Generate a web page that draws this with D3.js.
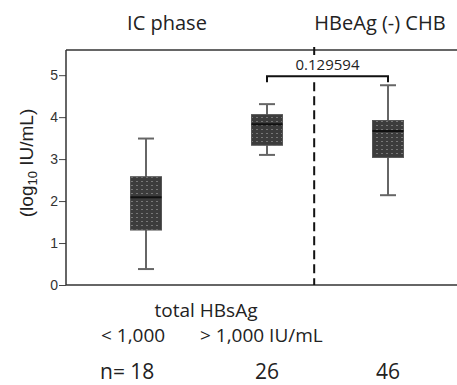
<!DOCTYPE html>
<meta charset="utf-8">
<title>HBsAg box plot</title>
<style>
  body { margin: 0; background: #fff; }
  text { fill: #222; }
  .tick text { font-family: "Liberation Sans", Arial, sans-serif; font-size: 14px; fill: #333; }
  .lbl { font-family: "Open Sans", "Liberation Sans", sans-serif; }
</style>
<body>
<script src="https://d3js.org/d3.v7.min.js"></script>
<script>

var width = 457, height = 385;

// data
var groups  = ["< 1,000", "> 1,000", "HBeAg (-) CHB"];
var counts  = ["n= 18", "26", "46"];
var whiskLo = [0.38, 3.10, 2.14];
var q1      = [1.31, 3.33, 3.04];
var median  = [2.09, 3.83, 3.67];
var q3      = [2.58, 4.06, 3.92];
var whiskHi = [3.49, 4.31, 4.76];
var yTicks  = [0, 1, 2, 3, 4, 5];
var pLabel  = "0.129594";
var pPair   = [1, 2];
var divider = 1.39;

var x = d3.scaleLinear().domain([0, 1]).range([146, 267]);
var y = d3.scaleLinear().domain([0, 5.6]).range([285, 50]);

var svg = d3.select("body").append("svg")
  .attr("width", width)
  .attr("height", height);

var defs = svg.append("defs");
var pat = defs.append("pattern")
  .attr("id", "dots")
  .attr("patternUnits", "userSpaceOnUse")
  .attr("width", 5).attr("height", 4);
pat.append("rect").attr("width", 5).attr("height", 4).attr("fill", "#3c3c3c");
pat.append("rect").attr("x", 1).attr("y", 1).attr("width", 2).attr("height", 1).attr("fill", "#777");

// y axis
var yAxis = svg.append("g")
  .attr("transform", "translate(66,0)")
  .call(d3.axisLeft(y).tickValues(yTicks).tickFormat(d3.format("d")).tickSize(7).tickPadding(1));
yAxis.select(".domain").remove();
yAxis.selectAll(".tick line").attr("stroke", "#444");

// frame: left, top, bottom
svg.append("line").attr("x1", 66).attr("x2", 66).attr("y1", y(0)).attr("y2", y.range()[1])
  .attr("stroke", "#333").attr("stroke-width", 1.5);
svg.append("line").attr("x1", 66).attr("x2", width).attr("y1", y.range()[1]).attr("y2", y.range()[1])
  .attr("stroke", "#333").attr("stroke-width", 1.5);
svg.append("line").attr("x1", 66).attr("x2", width).attr("y1", y(0)).attr("y2", y(0))
  .attr("stroke", "#333").attr("stroke-width", 1.5);

// significance bracket position
var by = y(5) + 1;

// divider: short tick through the top frame, then dashes below the bracket
svg.append("line")
  .attr("x1", x(divider)).attr("x2", x(divider))
  .attr("y1", y.range()[1] - 3).attr("y2", y.range()[1] + 5)
  .attr("stroke", "#111").attr("stroke-width", 2);
svg.append("line")
  .attr("x1", x(divider)).attr("x2", x(divider))
  .attr("y1", by + 6).attr("y2", y(0))
  .attr("stroke", "#111").attr("stroke-width", 2)
  .attr("stroke-dasharray", "9,5");

// boxes
var bw = 31, cw = 16;
var box = svg.selectAll(".box").data(groups).enter().append("g").attr("class", "box");

box.append("line")
  .attr("x1", function(d, i) { return x(i); }).attr("x2", function(d, i) { return x(i); })
  .attr("y1", function(d, i) { return y(whiskLo[i]); })
  .attr("y2", function(d, i) { return y(whiskHi[i]); })
  .attr("stroke", "#666").attr("stroke-width", 2);
box.append("line")
  .attr("x1", function(d, i) { return x(i) - cw / 2; }).attr("x2", function(d, i) { return x(i) + cw / 2; })
  .attr("y1", function(d, i) { return y(whiskLo[i]); }).attr("y2", function(d, i) { return y(whiskLo[i]); })
  .attr("stroke", "#666").attr("stroke-width", 2);
box.append("line")
  .attr("x1", function(d, i) { return x(i) - cw / 2; }).attr("x2", function(d, i) { return x(i) + cw / 2; })
  .attr("y1", function(d, i) { return y(whiskHi[i]); }).attr("y2", function(d, i) { return y(whiskHi[i]); })
  .attr("stroke", "#666").attr("stroke-width", 2);
box.append("rect")
  .attr("x", function(d, i) { return x(i) - bw / 2; })
  .attr("y", function(d, i) { return y(q3[i]); })
  .attr("width", bw)
  .attr("height", function(d, i) { return y(q1[i]) - y(q3[i]); })
  .attr("fill", "url(#dots)")
  .attr("stroke", "#555").attr("stroke-width", 1);
box.append("line")
  .attr("x1", function(d, i) { return x(i) - bw / 2; }).attr("x2", function(d, i) { return x(i) + bw / 2; })
  .attr("y1", function(d, i) { return y(median[i]); }).attr("y2", function(d, i) { return y(median[i]); })
  .attr("stroke", "#111").attr("stroke-width", 2);

// significance bracket
svg.append("path")
  .attr("d", "M" + x(pPair[0]) + "," + (by + 6) + "V" + by + "H" + x(pPair[1]) + "V" + (by + 6))
  .attr("fill", "none").attr("stroke", "#111").attr("stroke-width", 2);
svg.append("text").attr("class", "lbl")
  .attr("x", (x(pPair[0]) + x(pPair[1])) / 2).attr("y", by - 6)
  .attr("text-anchor", "middle").attr("font-size", 15)
  .text(pLabel);

// headers
svg.append("text").attr("class", "lbl")
  .attr("x", 167).attr("y", 30).attr("text-anchor", "middle").attr("font-size", 20)
  .text("IC phase");
svg.append("text").attr("class", "lbl")
  .attr("x", 380).attr("y", 30).attr("text-anchor", "middle").attr("font-size", 20)
  .text(groups[2]);

// y label
var yl = svg.append("text")
  .attr("transform", "translate(33,163) rotate(-90)")
  .attr("text-anchor", "middle")
  .attr("font-family", "Liberation Sans, Arial, sans-serif")
  .attr("font-size", 19);
yl.append("tspan").text("(log");
yl.append("tspan").attr("font-size", 13).attr("dy", 4).text("10");
yl.append("tspan").attr("dy", -4).text(" IU/mL)");

// bottom labels
svg.append("text").attr("class", "lbl")
  .attr("x", 206).attr("y", 317).attr("text-anchor", "middle").attr("font-size", 19)
  .text("total HBsAg");
svg.append("text").attr("class", "lbl")
  .attr("x", 101).attr("y", 342).attr("font-size", 19)
  .text(groups[0]);
svg.append("text").attr("class", "lbl")
  .attr("x", 200).attr("y", 342).attr("font-size", 19)
  .text(groups[1] + " IU/mL");

svg.selectAll(".count").data(counts).enter().append("text")
  .attr("class", "lbl count")
  .attr("x", function(d, i) { return i === 0 ? 100 : x(i); })
  .attr("y", 379)
  .attr("text-anchor", function(d, i) { return i === 0 ? "start" : "middle"; })
  .attr("font-size", 21)
  .text(function(d) { return d; });

</script>
